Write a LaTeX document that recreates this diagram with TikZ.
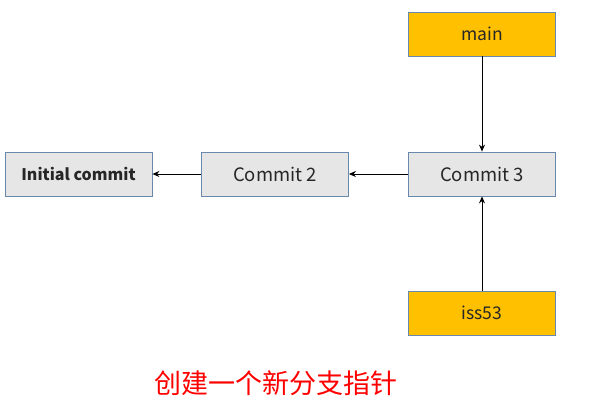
\documentclass[tikz,border=0pt]{standalone}
\usepackage{fontspec}
\setmainfont{Noto Sans CJK SC}
\usetikzlibrary{arrows.meta}
\definecolor{boxgray}{HTML}{E6E6E6}
\definecolor{boxedge}{HTML}{6A88AC}
\definecolor{gold}{HTML}{FFC000}
\begin{document}
\begin{tikzpicture}[x=1pt,y=-1pt,
  commitbox/.style={draw=boxedge, line width=0.8pt, fill=boxgray, minimum width=147pt, minimum height=44pt, inner sep=0pt, font=\fontsize{18.5}{22}\selectfont, text=black!85},
  branchbox/.style={commitbox, fill=gold, font=\fontsize{17.5}{21}\selectfont},
  link/.style={-{Stealth[length=7pt,width=6pt]}, line width=1pt, black}]
\useasboundingbox (0,0) rectangle (600,400);
\node[commitbox, font=\fontsize{16}{19}\selectfont\bfseries] (init) at (78.5,174) {Initial commit};
\node[commitbox] (c2) at (275,174) {Commit 2};
\node[commitbox] (c3) at (482,174) {Commit 3};
\node[branchbox] (main) at (482,34) {main};
\node[branchbox] (iss) at (482,313) {iss53};
\draw[link] (main) -- (c3);
\draw[link] (iss) -- (c3);
\draw[link] (c3) -- (c2);
\draw[link] (c2) -- (init);
\node[text=red, font=\fontsize{27}{32}\selectfont] (cap) at (276,383) {创建一个新分支指针};
\end{tikzpicture}
\end{document}
